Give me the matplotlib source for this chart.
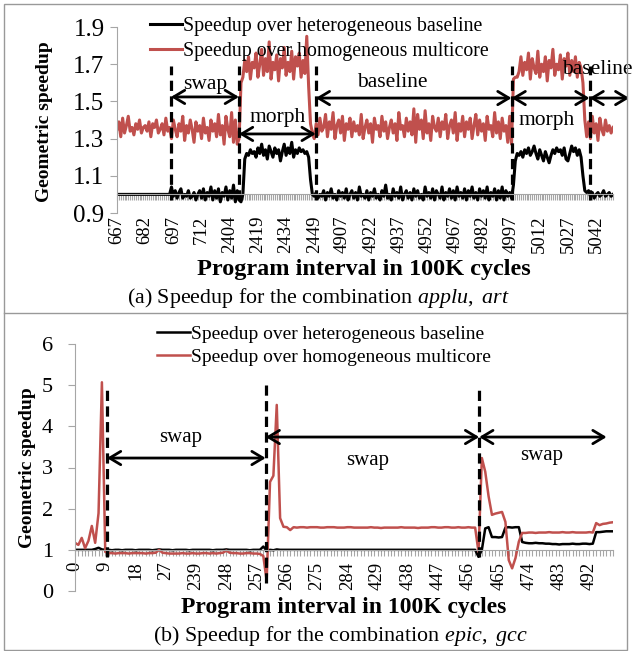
import numpy as np
import matplotlib.pyplot as plt
from matplotlib.patches import Rectangle
from matplotlib.lines import Line2D

plt.rcParams['font.family'] = ['Liberation Serif', 'DejaVu Serif']
plt.rcParams['mathtext.fontset'] = 'custom'
plt.rcParams['mathtext.rm'] = 'Liberation Serif'
plt.rcParams['mathtext.it'] = 'Liberation Serif:italic'

RED = '#C0504D'
GREY = '#a6a6a6'

# ---- (a) applu, art ----
cats_a = list(range(667, 727)) + list(range(2404, 2464)) + list(range(4907, 5052))

homog_a = [
    # 667 .. 2405
    1.35, 1.39, 1.31, 1.41, 1.33, 1.37, 1.42, 1.34, 1.36, 1.32,
    1.38, 1.35, 1.40, 1.33, 1.36, 1.37, 1.34, 1.39, 1.31, 1.38,
    1.36, 1.40, 1.33, 1.35, 1.38, 1.32, 1.41, 1.34, 1.36, 1.30,
    1.40, 1.35, 1.31, 1.38, 1.34, 1.42, 1.29, 1.37, 1.33, 1.40,
    1.35, 1.28, 1.39, 1.34, 1.37, 1.30, 1.41, 1.33, 1.36, 1.29,
    1.40, 1.34, 1.38, 1.31, 1.43, 1.32, 1.37, 1.27, 1.42, 1.35,
    1.31, 1.44, 1.28, 1.40, 1.27, 1.30,
    # morph
    1.60, 1.63, 1.72, 1.66, 1.74, 1.62, 1.71, 1.68, 1.76, 1.63,
    1.70, 1.78, 1.64, 1.73, 1.66, 1.82, 1.62, 1.71, 1.67, 1.75,
    1.61, 1.73, 1.68, 1.79, 1.64, 1.71, 1.66, 1.77, 1.62, 1.74,
    1.69, 1.76, 1.63, 1.72, 1.65, 1.85, 1.58, 1.38, 1.33,
    # baseline
    1.30, 1.38, 1.32, 1.41, 1.34, 1.36, 1.43, 1.31, 1.39, 1.35,
    1.44, 1.30, 1.37, 1.40, 1.33, 1.42, 1.29, 1.38, 1.35, 1.41,
    1.31, 1.39, 1.34, 1.37, 1.32, 1.43, 1.30, 1.36, 1.40, 1.33,
    1.38, 1.28, 1.41, 1.35, 1.37, 1.31, 1.42, 1.34, 1.39, 1.30,
    1.36, 1.40, 1.33, 1.38, 1.29, 1.44, 1.35, 1.37, 1.31, 1.41,
    1.34, 1.39, 1.32, 1.46, 1.28, 1.43, 1.35, 1.40, 1.30, 1.45,
    1.33, 1.38, 1.29, 1.42, 1.36, 1.34, 1.41, 1.31, 1.39, 1.35,
    1.43, 1.30, 1.37, 1.40, 1.33, 1.44, 1.29, 1.38, 1.34, 1.42,
    1.31, 1.39, 1.35, 1.41, 1.30, 1.37, 1.43, 1.32, 1.40, 1.34,
    1.38, 1.29, 1.42, 1.35, 1.37, 1.31, 1.44, 1.33, 1.39, 1.30,
    1.41, 1.34, 1.37, 1.28, 1.42, 1.27,
    # morph
    1.62, 1.63, 1.63, 1.66, 1.74, 1.64, 1.71, 1.67, 1.76, 1.62,
    1.73, 1.68, 1.65, 1.77, 1.63, 1.70, 1.66, 1.74, 1.61, 1.72,
    1.68, 1.78, 1.64, 1.70, 1.67, 1.75, 1.62, 1.73, 1.69, 1.76,
    1.64, 1.72, 1.66, 1.74, 1.63, 1.71, 1.68, 1.60, 1.40, 1.31,
    # baseline
    1.39, 1.30, 1.42, 1.33, 1.38, 1.29, 1.41, 1.35, 1.32, 1.40,
    1.34, 1.37, 1.33, 1.36,
]

hetero_a = [
    1.00, 1.00, 1.00, 1.00, 1.00, 1.00, 1.00, 1.00, 1.00, 1.00,
    1.00, 1.00, 1.00, 1.00, 1.00, 1.00, 1.00, 1.00, 1.00, 1.00,
    1.00, 1.00, 1.00, 1.00, 1.00, 1.00, 1.00, 1.00, 1.00,
    1.04, 0.99, 1.02, 0.98, 1.01, 1.03, 0.98, 1.00, 0.99, 1.02,
    0.98, 0.99, 1.01, 0.97, 1.00, 1.02, 0.98, 1.03, 0.97, 1.01,
    0.99, 1.04, 0.97, 1.02, 0.98, 1.03, 0.96, 1.01, 0.99, 1.04,
    0.97, 1.02, 0.98, 1.05, 0.96, 1.02, 0.97,
    0.96, 1.00, 1.19, 1.22, 1.21, 1.24, 1.22, 1.23, 1.20, 1.25,
    1.22, 1.27, 1.21, 1.24, 1.19, 1.26, 1.23, 1.20, 1.25, 1.22,
    1.24, 1.18, 1.23, 1.27, 1.21, 1.25, 1.22, 1.28, 1.20, 1.24,
    1.22, 1.25, 1.23, 1.24, 1.22, 1.23, 1.20, 1.08, 1.00,
    0.99, 1.01, 0.98, 1.00, 0.99, 1.02, 0.97, 1.01, 0.99, 1.03,
    0.98, 1.00, 0.97, 1.02, 0.99, 1.01, 0.98, 1.03, 0.97, 1.00,
    1.02, 0.98, 1.01, 0.97, 1.04, 0.99, 1.00, 0.98, 1.02, 0.97,
    1.01, 0.99, 1.03, 0.98, 1.00, 0.97, 1.02, 0.99, 1.05, 0.98,
    1.00, 0.97, 1.03, 0.99, 1.01, 0.98, 1.04, 0.97, 1.00, 1.02,
    0.98, 1.01, 0.97, 1.03, 0.99, 1.02, 0.98, 1.00, 0.97, 1.04,
    0.99, 1.01, 0.98, 1.03, 0.97, 1.02, 1.00, 0.98, 1.04, 0.97,
    1.01, 0.99, 1.03, 0.98, 1.02, 0.97, 1.04, 0.99, 1.01, 0.98,
    1.03, 0.97, 1.02, 0.99, 1.04, 0.98, 1.01, 0.97, 1.03, 0.99,
    1.02, 0.98, 1.04, 0.97, 1.01, 0.99, 1.03, 0.97, 1.02, 0.98,
    1.04, 0.97, 1.02, 0.99, 1.01, 0.98,
    1.05, 1.18, 1.22, 1.21, 1.23, 1.20, 1.24, 1.22, 1.25, 1.21,
    1.23, 1.26, 1.22, 1.19, 1.24, 1.21, 1.18, 1.23, 1.20, 1.17,
    1.21, 1.24, 1.22, 1.25, 1.23, 1.24, 1.21, 1.25, 1.19, 1.18,
    1.22, 1.26, 1.23, 1.25, 1.21, 1.24, 1.20, 1.10, 1.02, 1.01,
    1.02, 0.99, 1.01, 0.98, 1.00, 1.01, 0.99, 1.00, 1.02, 0.99,
    1.00, 1.01, 0.99, 1.00,
]

# phase boundaries (category position) and labels for panel a
bounds_a = [28.7, 64.9, 105.8, 210.0, 251.5]
phases_a = ['swap', 'morph', 'baseline', 'morph', 'baseline']

# ---- (b) epic, gcc ----
cats_b = list(range(0, 36)) + list(range(239, 293)) + list(range(429, 500))

homog_b = [
    1.17, 1.12, 1.29, 1.04, 1.22, 1.58, 1.17, 1.89, 5.07, 0.95,
    0.92, 0.92, 0.91, 0.92, 0.92, 0.92, 0.91, 0.92, 0.92, 0.92,
    0.92, 0.91, 0.92, 0.92, 0.93, 1.00, 0.93, 0.92, 0.91, 0.91,
    0.91, 0.91, 0.92, 0.91, 0.91, 0.92, 0.91, 0.91, 0.92, 0.92,
    0.91, 0.92, 0.91, 0.92, 0.93, 0.98, 0.93, 0.92, 0.92, 0.91,
    0.91, 0.92, 0.92, 0.91, 0.91, 0.90,
    0.85, 0.25, 2.65, 2.80, 4.52, 1.77, 1.56, 1.55, 1.48, 1.55,
    1.54, 1.55, 1.55, 1.54, 1.55, 1.55, 1.55, 1.54, 1.54, 1.55,
    1.55, 1.55, 1.54, 1.54, 1.54, 1.55, 1.55, 1.54, 1.54, 1.54,
    1.54, 1.54, 1.55, 1.54, 1.54, 1.53, 1.54, 1.54, 1.54, 1.54,
    1.54, 1.55, 1.54, 1.54, 1.54, 1.54, 1.53, 1.54, 1.54, 1.54,
    1.55, 1.55, 1.54, 1.54, 1.55, 1.55, 1.54, 1.54, 1.55, 1.54,
    1.54, 1.55, 1.54, 1.54,
    0.95, 3.23, 2.90, 2.30, 1.85, 1.88, 1.90, 1.92, 1.68, 0.75,
    0.55, 0.80, 1.20, 1.41,
    1.41, 1.42, 1.42, 1.41, 1.42, 1.42, 1.42, 1.43, 1.42, 1.42,
    1.42, 1.43, 1.42, 1.42, 1.43, 1.42, 1.42, 1.42, 1.42, 1.43,
    1.42,
    1.65, 1.60, 1.63, 1.64, 1.66, 1.67,
]

hetero_b = [
    1.00, 1.00, 1.00, 1.00, 1.00, 1.00, 1.02, 1.05, 1.01, 1.00,
    1.00, 0.99, 1.00, 1.00, 0.99, 1.00, 1.00, 1.00, 0.99, 1.00,
    1.00, 1.00, 1.00, 0.99, 1.00, 1.01, 1.00, 1.00, 1.00, 0.99,
    1.00, 1.00, 1.00, 1.00, 0.99, 1.00, 1.00, 1.00, 1.00, 1.00,
    1.00, 0.99, 1.00, 1.00, 1.00, 1.01, 1.00, 1.00, 1.00, 1.00,
    1.00, 1.00, 0.99, 1.00, 1.00, 1.00,
    1.08, 0.98, 1.00, 0.99, 1.01, 1.00, 1.00, 1.00, 1.00, 1.00,
    1.00, 1.00, 1.00, 1.00, 1.00, 1.00, 1.00, 1.00, 1.00, 1.00,
    1.00, 1.00, 1.00, 1.00, 1.00, 1.00, 1.00, 1.00, 1.00, 1.00,
    1.00, 1.00, 1.00, 1.00, 1.00, 1.00, 1.00, 1.00, 1.00, 1.00,
    1.00, 1.00, 1.00, 1.00, 1.00, 1.00, 1.00, 1.00, 1.00, 1.00,
    1.00, 1.00, 1.00, 1.00, 1.00, 1.00, 1.00, 1.00, 1.00, 1.00,
    1.00, 1.00, 1.00, 1.00,
    0.83, 1.00, 1.52, 1.55, 1.31, 1.31, 1.30, 1.31, 1.54, 1.55,
    1.54, 1.55, 1.55, 1.19,
    1.17, 1.16, 1.16, 1.17, 1.16, 1.16, 1.15, 1.15, 1.14, 1.14,
    1.13, 1.14, 1.14, 1.14, 1.15, 1.14, 1.14, 1.15, 1.15, 1.14,
    1.15,
    1.43, 1.43, 1.44, 1.45, 1.45, 1.45,
]

bounds_b = [9.5, 56.7, 120.2]
phases_b = ['swap', 'swap', 'swap']

labels = ['Speedup over heterogeneous baseline', 'Speedup over homogeneous multicore']


def setup(ax, cats, step, ylim, yticks, yfmt, xpad, ypad, ytsize):
    ax.set_xlim(0, len(cats) - 1)
    ax.set_ylim(*ylim)
    for s in ['top', 'right']:
        ax.spines[s].set_visible(False)
    ax.spines['bottom'].set_position(('data', 1.0))
    ax.spines['bottom'].set_color(GREY)
    ax.spines['left'].set_color(GREY)
    x = np.arange(len(cats))
    ax.set_xticks(x[::step])
    ax.set_xticklabels([str(c) for c in cats[::step]], rotation=90)
    ax.set_xticks(x, minor=True)
    ax.tick_params(axis='x', which='both', length=4, width=0.8, color=GREY,
                   pad=xpad, labelsize=13.5)
    ax.set_yticks(yticks)
    ax.set_yticklabels([yfmt.format(v) for v in yticks])
    ax.tick_params(axis='y', length=5, color=GREY, pad=ypad, labelsize=ytsize)


def arrow(ax, x0, x1, y):
    ax.annotate('', xy=(x1, y), xytext=(x0, y), annotation_clip=False,
                arrowprops=dict(arrowstyle='<->,head_length=0.5,head_width=0.3',
                                lw=2, color='black', shrinkA=0, shrinkB=0,
                                mutation_scale=16))


fig = plt.figure(figsize=(6.32, 6.51), dpi=100)

# panel a
ax1 = fig.add_axes([117 / 632, 1 - 213 / 651, 496 / 632, 186 / 651])
setup(ax1, cats_a, 15, (0.9, 1.9), [0.9, 1.1, 1.3, 1.5, 1.7, 1.9], '{:.1f}', 11.5, 4, 18)
xa = np.arange(len(cats_a))
l1, = ax1.plot(xa, hetero_a, color='black', lw=2.2)
l2, = ax1.plot(xa, homog_a, color=RED, lw=2.2)
ax1.vlines(bounds_a, 0.97, 1.69, colors='black', lw=2.3, linestyles=(0, (3.2, 1.7)))
arr_y = [1.524, 1.325, 1.518, 1.518, 1.518]
ends = bounds_a[1:] + [272.7]
for b0, b1, yy in zip(bounds_a, ends, arr_y):
    arrow(ax1, b0, b1, yy)
txt_a = [(46.8, 1.593, 'center'), (85.6, 1.416, 'center'), (146.7, 1.604, 'center'),
         (228.6, 1.40, 'center'), (237.1, 1.669, 'left')]
for (tx, ty, ha), name in zip(txt_a, phases_a):
    ax1.text(tx, ty, name, fontsize=15.5, ha=ha, va='center', clip_on=False)
fig.legend([l1, l2], labels, loc='upper left', bbox_to_anchor=(150 / 632, 1 - 17 / 651),
           frameon=False, fontsize=14.3, borderpad=0, borderaxespad=0, handlelength=1.62,
           handletextpad=0.05, labelspacing=0.3)
fig.text(364 / 632, 1 - 270 / 651, 'Program interval in 100K cycles', fontsize=17.5,
         fontweight='bold', ha='center', va='center')
fig.text(45 / 632, 1 - 122 / 651, 'Geometric speedup', fontsize=14, fontweight='bold',
         rotation=90, ha='center', va='center')
fig.text(318 / 632, 1 - 298 / 651,
         r'(a) Speedup for the combination $\mathit{applu,}$ $\mathit{art}$',
         fontsize=15.8, ha='center', va='center')

# panel b
ax2 = fig.add_axes([75 / 632, 1 - 591 / 651, 538 / 632, 247 / 651])
setup(ax2, cats_b, 9, (0, 6), [0, 1, 2, 3, 4, 5, 6], '{:d}', 4.5, 11, 16)
xb = np.arange(len(cats_b))
m1, = ax2.plot(xb, hetero_b, color='black', lw=1.8)
m2, = ax2.plot(xb, homog_b, color=RED, lw=1.8)
ax2.vlines(bounds_b, [0.83, 0.2, 0.83], 5.0, colors='black', lw=2.3,
           linestyles=(0, (3.2, 1.7)))
arr_yb = [3.23, 3.74, 3.74]
ends_b = bounds_b[1:] + [158.1]
for b0, b1, yy in zip(bounds_b, ends_b, arr_yb):
    arrow(ax2, b0, b1, yy)
txt_b = [(31.3, 3.72), (87.1, 3.18), (138.7, 3.30)]
for (tx, ty), name in zip(txt_b, phases_b):
    ax2.text(tx, ty, name, fontsize=15, ha='center', va='center')
fig.legend([m1, m2], labels, loc='upper left', bbox_to_anchor=(157 / 632, 1 - 325 / 651),
           frameon=False, fontsize=14, borderpad=0, borderaxespad=0, handlelength=1.7,
           handletextpad=0.05, labelspacing=0.28)
fig.text(344 / 632, 1 - 607 / 651, 'Program interval in 100K cycles', fontsize=17,
         fontweight='bold', ha='center', va='center')
fig.text(28 / 632, 1 - 468 / 651, 'Geometric speedup', fontsize=14, fontweight='bold',
         rotation=90, ha='center', va='center')
fig.text(340 / 632, 1 - 636 / 651,
         r'(b) Speedup for the combination $\mathit{epic,}$ $\mathit{gcc}$',
         fontsize=15.8, ha='center', va='center')

# frame around the figure and the separator between panels
fig.patches.append(Rectangle((4 / 632, 1 / 651), 623 / 632, 646 / 651, transform=fig.transFigure,
                             fill=False, edgecolor='#999999', lw=1))
fig.lines.append(Line2D([4 / 632, 627 / 632], [1 - 313 / 651, 1 - 313 / 651],
                        transform=fig.transFigure, color='#999999', lw=1))

fig.savefig('out.png', dpi=100)
